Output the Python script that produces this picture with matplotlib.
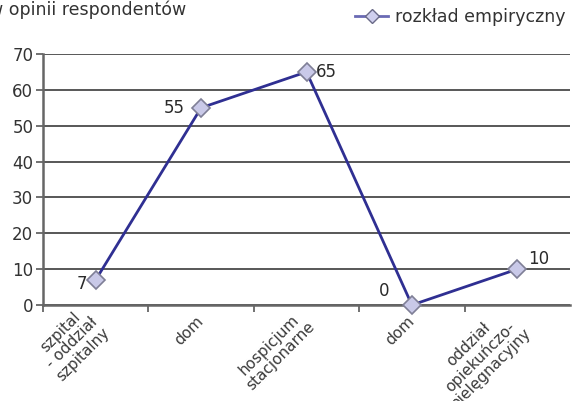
import matplotlib
matplotlib.use("Agg")
import matplotlib.pyplot as plt
from matplotlib.lines import Line2D

categories = ["szpital\n- oddział\nszpitalny", "dom", "hospicjum\nstacjonarne", "dom",
              "oddział\nopiekuńczo-\npielęgnacyjny"]
values = [7, 55, 65, 0, 10]
series_name = "rozkład empiryczny"
title = "w opinii respondentów"

plt.rcParams['font.family'] = ['DejaVu Sans']
fig = plt.figure(figsize=(5.72, 4.01), dpi=100)
ax = fig.add_axes([43/572, 1 - 305/401, 527/572, (305-54)/401])

line_col = "#2f2f92"
x = list(range(len(values)))
ax.plot(x, values, color=line_col, lw=2.0, marker="D", markersize=9,
        markerfacecolor="#c9c9e8", markeredgecolor="#7f7f96", markeredgewidth=1.2, zorder=5,
        clip_on=False)

ax.set_xlim(-0.5, len(values) - 0.5)
ax.set_ylim(0, 70)
ax.set_yticks(range(0, 71, 10))
ax.yaxis.grid(True, color="#4a4a4a", lw=1.3)
ax.set_axisbelow(True)
ax.set_xticks([i - 0.5 for i in range(len(values))])
ax.set_xticklabels([])
ax.set_xticks(x, minor=True)
ax.set_xticklabels(categories, minor=True, rotation=45, ha="right", va="center",
                   rotation_mode="anchor", multialignment="center",
                   fontsize=11, color="#3a3a3a", linespacing=1.08)
ax.tick_params(axis="x", which="minor", length=0, pad=10)
ax.tick_params(axis="x", which="major", length=5, width=1.3, color="#666666", direction="out")
ax.tick_params(axis="y", length=5, width=1.3, color="#666666", labelsize=12,
               labelcolor="#333333", pad=2)
for s in ["top", "right"]:
    ax.spines[s].set_visible(False)
ax.spines["left"].set_color("#666666")
ax.spines["left"].set_linewidth(1.8)
ax.spines["bottom"].set_color("#666666")
ax.spines["bottom"].set_linewidth(1.8)

offsets = [(-6, -3, "right"), (-12, 0, "right"), (7, 0, "left"), (-16, 10, "right"), (8, 7, "left")]
for xi, v, (dx, dy, ha) in zip(x, values, offsets):
    ax.annotate(str(v), (xi, v), xytext=(dx, dy), textcoords="offset points",
                ha=ha, va="center", fontsize=12, color="#2a2a2a")

fig.text(186/572, 1 - 10/401, title, ha="right", va="center", fontsize=12.5, color="#333333")

handle = Line2D([], [], color="#6a6ab4", lw=2, marker="D", markersize=7,
                markerfacecolor="#d0d0ee", markeredgecolor="#6a6a88")
fig.legend([handle], [series_name], loc="center right", bbox_to_anchor=(1.0, 1 - 17/401),
           frameon=False, fontsize=12.5, handlelength=1.9, handletextpad=0.35, borderaxespad=0,
           labelcolor="#333333")

fig.savefig("out.png", dpi=100)
